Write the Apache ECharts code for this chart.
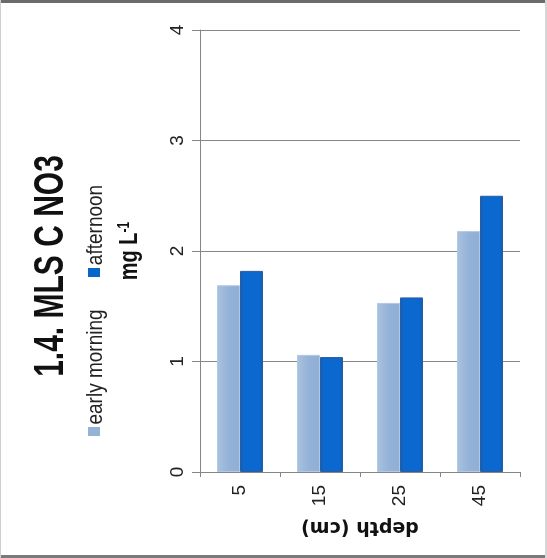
<!DOCTYPE html>
<html><head><meta charset="utf-8">
<script src="https://cdn.jsdelivr.net/npm/echarts@6/dist/echarts.min.js"></script>
<style>html,body{margin:0;padding:0;background:#fff}#c{width:547px;height:558px}</style>
</head><body><div id="c"></div>
<script>
const categories = ['5', '15', '25', '45'];
const earlyMorning = [1.69, 1.06, 1.53, 2.18];
const afternoon = [1.82, 1.04, 1.58, 2.50];
const yTicks = [0, 1, 2, 3, 4];
const seriesNames = ['early morning', 'afternoon'];
const titleText = '1.4. MLS C NO3';
const unitText = 'mg L{sup|-1}';
const xName = 'depth (cm)';

const NARROW = '"Liberation Sans Narrow","Arial Narrow","Liberation Sans",sans-serif';
const LIGHT = '#95b3d7';
const DARK = '#0866c9';
const chart = echarts.init(document.getElementById('c'));
chart.setOption({
  animation: false,
  grid: {left: 200, right: 27, top: 30, bottom: 86, containLabel: false},
  xAxis: {
    type: 'category', data: categories,
    name: xName, nameLocation: 'middle', nameGap: 45, nameRotate: 180,
    nameTextStyle: {fontFamily: '"DejaVu Sans",sans-serif', fontWeight: 'bold', fontSize: 19, color: '#111'},
    axisLine: {lineStyle: {color: '#868686', width: 1}},
    axisTick: {show: true, length: 5, lineStyle: {color: '#868686'}},
    axisLabel: {rotate: 90, margin: 13, fontFamily: NARROW, fontSize: 19, color: '#222'}
  },
  yAxis: {
    type: 'value', min: yTicks[0], max: yTicks[yTicks.length - 1], interval: 1,
    axisLine: {show: true, lineStyle: {color: '#868686', width: 1}},
    axisTick: {show: true, length: 8, lineStyle: {color: '#868686'}},
    splitLine: {lineStyle: {color: '#868686', width: 1}},
    axisLabel: {rotate: 90, margin: 13, fontFamily: NARROW, fontSize: 19, color: '#222'}
  },
  series: [
    {name: seriesNames[0], type: 'bar', data: earlyMorning, barWidth: 23, barGap: '0%',
     itemStyle: {color: new echarts.graphic.LinearGradient(0, 0, 1, 0, [
       {offset: 0, color: '#a9c2e0'}, {offset: 0.5, color: LIGHT}, {offset: 1, color: '#8eaed4'}]),
       borderColor: '#b3c8e3', borderWidth: 1}},
    {name: seriesNames[1], type: 'bar', data: afternoon, barWidth: 23, barGap: '0%',
     itemStyle: {color: new echarts.graphic.LinearGradient(0, 0, 1, 0, [
       {offset: 0, color: '#1a5aa8'}, {offset: 0.15, color: '#0a68cf'}, {offset: 0.85, color: '#0a68cf'}, {offset: 1, color: '#1a58a6'}]),
       borderColor: '#2a5c9e', borderWidth: 1}}
  ],
  graphic: [
    {type: 'rect', shape: {x: 0, y: 0, width: 547, height: 3}, style: {fill: '#6b6b6b'}, silent: true},
    {type: 'rect', shape: {x: 0, y: 555, width: 547, height: 3}, style: {fill: '#7a7a7a'}, silent: true},
    {type: 'rect', shape: {x: 0, y: 0, width: 1, height: 558}, style: {fill: '#cfcfcf'}, silent: true},
    {type: 'rect', shape: {x: 545, y: 0, width: 2, height: 558}, style: {fill: '#d6d6d6'}, silent: true},
    {type: 'text', x: 51, y: 266, rotation: Math.PI / 2, scaleY: 1.4,
     style: {text: titleText, fontFamily: NARROW, fontWeight: 'bold', fontSize: 30, fill: '#111', align: 'center', verticalAlign: 'middle'}},
    {type: 'rect', shape: {x: 88, y: 427, width: 12, height: 9}, style: {fill: LIGHT}},
    {type: 'text', x: 96, y: 367, rotation: Math.PI / 2, scaleY: 1.15,
     style: {text: seriesNames[0], fontFamily: NARROW, fontSize: 19, fill: '#222', align: 'center', verticalAlign: 'middle'}},
    {type: 'rect', shape: {x: 88, y: 268, width: 12, height: 9}, style: {fill: DARK}},
    {type: 'text', x: 96, y: 225, rotation: Math.PI / 2, scaleY: 1.15,
     style: {text: seriesNames[1], fontFamily: NARROW, fontSize: 19, fill: '#222', align: 'center', verticalAlign: 'middle'}},
    {type: 'text', x: 130, y: 251, rotation: Math.PI / 2, scaleY: 1.3,
     style: {text: unitText, fontFamily: NARROW, fontWeight: 'bold', fontSize: 20, fill: '#111', align: 'center', verticalAlign: 'middle',
       rich: {sup: {fontFamily: NARROW, fontWeight: 'bold', fontSize: 12, verticalAlign: 'top', padding: [0, 0, 8, 0]}}}}
  ]
});
</script></body></html>
